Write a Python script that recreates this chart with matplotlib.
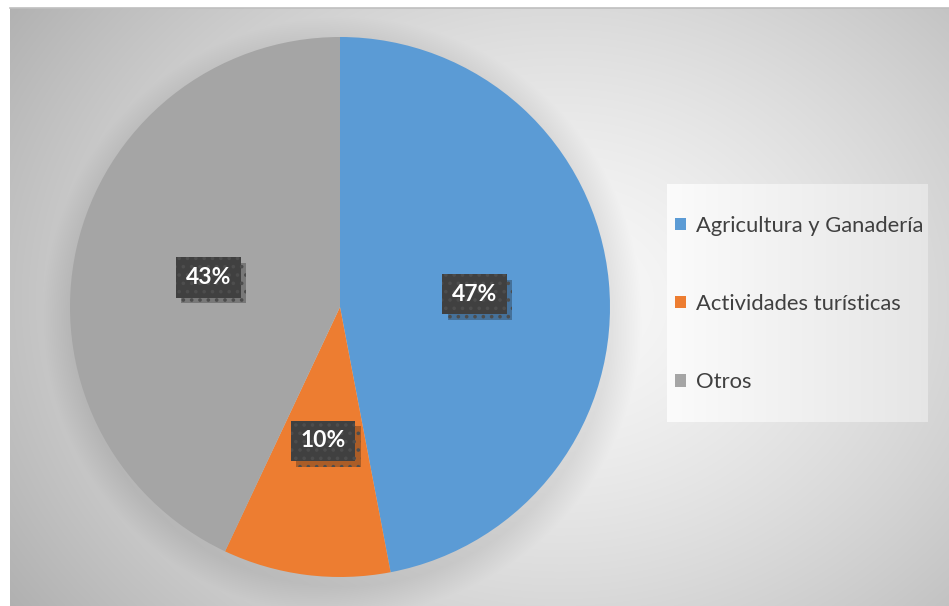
import numpy as np
import matplotlib
matplotlib.use("Agg")
import matplotlib.pyplot as plt
import matplotlib.patheffects as pe

# data
categorias = ["Agricultura y Ganadería", "Actividades turísticas", "Otros"]
valores = [47, 10, 43]
colores = ["#5B9BD5", "#ED7D31", "#A5A5A5"]

W, H = 949, 606
fig = plt.figure(figsize=(W / 100, H / 100), dpi=100, facecolor="white")
plt.rcParams["hatch.linewidth"] = 1.4

# background panel with radial gradient and soft pie shadow
x0, y0 = 10, 8
bg = fig.add_axes([x0 / W, 0, (W - x0) / W, (H - y0) / H])
yy, xx = np.mgrid[y0:H, x0:W].astype(float)
cx, cy = 560, 300
d = np.sqrt(((xx - cx) / 520) ** 2 + ((yy - cy) / 420) ** 2)
val = 0.975 - 0.2 * np.clip(d, 0, 1.3) ** 1.4
# shadow around the pie
pd = np.sqrt((xx - 342) ** 2 + (yy - 316) ** 2)
sh = np.clip((300 - pd) / 30, 0, 1)
val = val - 0.08 * sh
img = np.dstack([val, val, val])
bg.imshow(img, extent=[0, 1, 0, 1], aspect="auto", interpolation="bilinear")
bg.set_axis_off()
fig.add_artist(plt.Line2D([x0 / W, 1], [1 - y0 / H, 1 - y0 / H],
                          color="#BFBFBF", lw=1.2, transform=fig.transFigure))

# legend panel (white to light gray)
lx0, lx1, ly0, ly1 = 667, 928, 184, 422
lax = fig.add_axes([lx0 / W, 1 - ly1 / H, (lx1 - lx0) / W, (ly1 - ly0) / H])
g = np.linspace(0.985, 0.9, 200)
lax.imshow(np.dstack([g, g, g]).repeat(2, axis=0),
           extent=[0, 1, 0, 1], aspect="auto", interpolation="bilinear")
lax.set_axis_off()

# pie
cxp, cyp, r = 340, 307, 270
ax = fig.add_axes([(cxp - r) / W, (H - cyp - r) / H, 2 * r / W, 2 * r / H])
wedges, texts, autotexts = ax.pie(
    valores, colors=colores, startangle=90, counterclock=False,
    autopct="%1.0f%%", pctdistance=0.5, radius=1,
    wedgeprops=dict(linewidth=0),
    textprops=dict(color="white", fontsize=16.5, fontweight="bold", family="Lato"))
ax.set_xlim(-1, 1)
ax.set_ylim(-1, 1)
ax.set_aspect("equal")
ax.set_axis_off()

for t in autotexts:
    t.set_bbox(dict(boxstyle="square,pad=0.42", facecolor="#404040",
                    edgecolor="#4D4D4D", linewidth=0, hatch=".."))
    t.get_bbox_patch().set_path_effects(
        [pe.SimplePatchShadow(offset=(4, -4), alpha=0.3), pe.Normal()])

# legend
leg = fig.legend(wedges, categorias, loc="center left",
                 bbox_to_anchor=(675 / W, 1 - 304 / H),
                 frameon=False, handlelength=0.5, handleheight=0.5,
                 handletextpad=0.45, labelspacing=2.66,
                 borderpad=0, borderaxespad=0,
                 prop=dict(family="Lato", size=15.8))
for txt in leg.get_texts():
    txt.set_color("#404040")

fig.savefig("out.png", dpi=100, facecolor="white")
